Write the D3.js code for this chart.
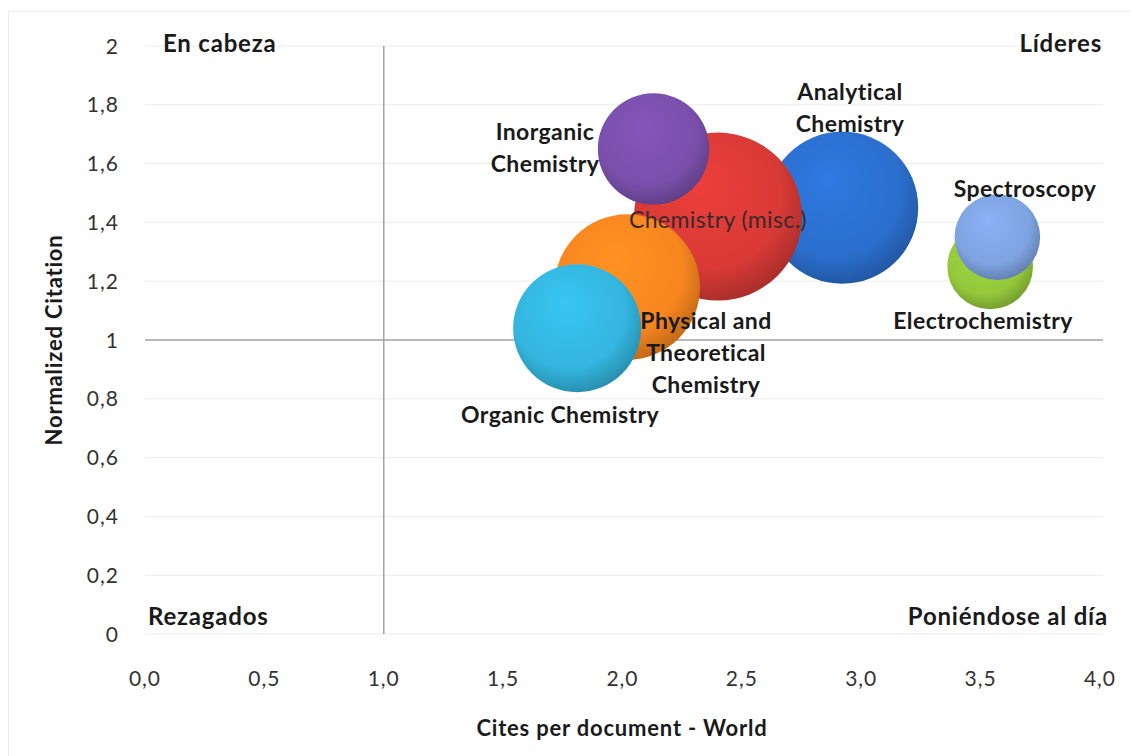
<!DOCTYPE html>
<html><head><meta charset="utf-8">
<script src="https://cdn.jsdelivr.net/npm/d3@7"></script>
<style>body{margin:0;background:#fff;} svg{display:block;}</style>
</head><body>
<svg id="chart" width="1131" height="756"></svg>
<script>
// ---- data ----
const categories = ["Analytical Chemistry","Chemistry (misc.)","Inorganic Chemistry","Physical and Theoretical Chemistry","Organic Chemistry","Electrochemistry","Spectroscopy"];
const citesPerDoc = [2.92, 2.40, 2.13, 2.02, 1.81, 3.54, 3.57];
const normCitation = [1.45, 1.42, 1.65, 1.18, 1.04, 1.25, 1.35];
const bubbleSize = [82, 100, 44, 75, 58, 26, 26];
const colors = ["#2b6fce", "#d83a36", "#7a4fab", "#f7861f", "#33b5de", "#94c83b", "#7ea3e0"];
const xTicks = [0, 0.5, 1, 1.5, 2, 2.5, 3, 3.5, 4];
const yTicks = [0, 0.2, 0.4, 0.6, 0.8, 1, 1.2, 1.4, 1.6, 1.8, 2];
const quadrantLabels = ["En cabeza", "Líderes", "Rezagados", "Poniéndose al día"];

const svg = d3.select("#chart");
const font = "Lato, 'Open Sans', sans-serif";

const x = d3.scaleLinear().domain([0, 4]).range([145, 1100]);
const y = d3.scaleLinear().domain([0, 2]).range([634, 46]);
const r = d3.scaleSqrt().domain([0, 100]).range([0, 84]);

// frame
svg.append("rect").attr("x", 8.5).attr("y", 11.5).attr("width", 1140).attr("height", 760)
  .attr("fill", "none").attr("stroke", "#ececec");

// gridlines
svg.append("g").selectAll("line").data(yTicks).join("line")
  .attr("x1", 145).attr("x2", 1103)
  .attr("y1", d => y(d)).attr("y2", d => y(d))
  .attr("stroke", "#ebebeb").attr("stroke-width", 1);

// y axis labels
const fmt = (d, dec) => d3.format(dec)(d).replace(".", ",");
svg.append("g").selectAll("text").data(yTicks).join("text")
  .attr("x", 119).attr("y", d => y(d)).attr("dy", "0.36em")
  .attr("text-anchor", "end").attr("font-family", font).attr("font-size", 21)
  .attr("letter-spacing", 1).attr("fill", "#333")
  .text(d => (d === 0 || d === 1 || d === 2) ? String(d) : fmt(d, ".1f"));

// x axis labels
svg.append("g").selectAll("text").data(xTicks).join("text")
  .attr("x", d => x(d)).attr("y", 686)
  .attr("text-anchor", "middle").attr("font-family", font).attr("font-size", 21)
  .attr("letter-spacing", 1).attr("fill", "#333")
  .text(d => fmt(d, ".1f"));

// quadrant lines
svg.append("line").attr("x1", x(1)).attr("x2", x(1)).attr("y1", y(2)).attr("y2", y(0))
  .attr("stroke", "#a3a3a3").attr("stroke-width", 1.5);
svg.append("line").attr("x1", 145).attr("x2", 1103).attr("y1", y(1)).attr("y2", y(1))
  .attr("stroke", "#a3a3a3").attr("stroke-width", 1.5);

// gradients
const defs = svg.append("defs");
colors.forEach((c, i) => {
  const g = defs.append("radialGradient").attr("id", "g" + i)
    .attr("cx", "45%").attr("cy", "40%").attr("r", "62%").attr("fx", "40%").attr("fy", "30%");
  g.append("stop").attr("offset", "0%").attr("stop-color", d3.color(c).brighter(0.25));
  g.append("stop").attr("offset", "72%").attr("stop-color", c);
  g.append("stop").attr("offset", "100%").attr("stop-color", d3.color(c).darker(0.7));
});

// bubbles
const data = categories.map((name, i) => ({name, cx: citesPerDoc[i], cy: normCitation[i], s: bubbleSize[i], i}));
svg.append("g").selectAll("circle").data(data).join("circle")
  .attr("cx", d => x(d.cx)).attr("cy", d => y(d.cy)).attr("r", d => r(d.s))
  .attr("fill", d => `url(#g${d.i})`);

// quadrant labels
const ql = [
  {t: quadrantLabels[0], x: 163, y: 52, a: "start"},
  {t: quadrantLabels[1], x: 1102, y: 52, a: "end"},
  {t: quadrantLabels[2], x: 148, y: 625, a: "start"},
  {t: quadrantLabels[3], x: 1108, y: 625, a: "end"}
];
svg.append("g").selectAll("text").data(ql).join("text")
  .attr("x", d => d.x).attr("y", d => d.y).attr("text-anchor", d => d.a)
  .attr("font-family", font).attr("font-weight", "bold").attr("font-size", 24)
  .attr("letter-spacing", 0.8).attr("fill", "#1a1a1a")
  .text(d => d.t);

// bubble labels
const labels = [
  {lines: ["Analytical", "Chemistry"], x: 850, y: 100, bold: true},
  {lines: ["Chemistry (misc.)"], x: 718, y: 228, bold: false},
  {lines: ["Inorganic", "Chemistry"], x: 545, y: 140, bold: true},
  {lines: ["Physical and", "Theoretical", "Chemistry"], x: 706, y: 329, bold: true},
  {lines: ["Organic Chemistry"], x: 560, y: 423, bold: true},
  {lines: ["Electrochemistry"], x: 983, y: 329, bold: true},
  {lines: ["Spectroscopy"], x: 1025, y: 197, bold: true}
];
labels.forEach(l => {
  const t = svg.append("text").attr("text-anchor", "middle")
    .attr("font-family", font).attr("font-size", l.bold ? 23 : 23)
    .attr("letter-spacing", 0.4)
    .attr("font-weight", l.bold ? "bold" : "normal")
    .attr("fill", l.bold ? "#1a1a1a" : "#3a2a2a");
  l.lines.forEach((s, k) => t.append("tspan").attr("x", l.x).attr("y", l.y + k * 32).text(s));
});

// axis titles
svg.append("text").attr("x", 622).attr("y", 736).attr("text-anchor", "middle")
  .attr("font-family", font).attr("font-weight", "bold").attr("font-size", 22)
  .attr("letter-spacing", 0.8).attr("fill", "#1a1a1a")
  .text("Cites per document - World");
svg.append("text").attr("transform", "translate(62,340) rotate(-90)").attr("text-anchor", "middle")
  .attr("font-family", font).attr("font-weight", "bold").attr("font-size", 22)
  .attr("letter-spacing", 0.8).attr("fill", "#1a1a1a")
  .text("Normalized Citation");
</script>
</body></html>
